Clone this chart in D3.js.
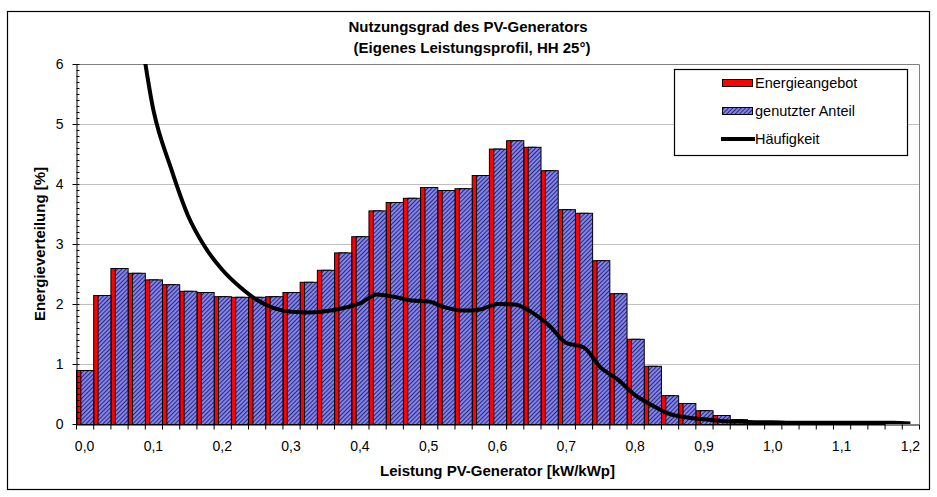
<!DOCTYPE html>
<html>
<head>
<meta charset="utf-8">
<script src="https://cdn.jsdelivr.net/npm/d3@7"></script>
<style>
  body { margin: 0; background: #fff; }
  svg text { font-family: "Liberation Sans", Arial, sans-serif; fill: #000; }
</style>
</head>
<body>
<svg id="chart" width="937" height="497"></svg>
<script>
// bins of the PV power [kW/kWp]
var categories = [0.000, 0.025, 0.050, 0.075, 0.100, 0.125, 0.150, 0.175, 0.200, 0.225,
                  0.250, 0.275, 0.300, 0.325, 0.350, 0.375, 0.400, 0.425, 0.450, 0.475,
                  0.500, 0.525, 0.550, 0.575, 0.600, 0.625, 0.650, 0.675, 0.700, 0.725,
                  0.750, 0.775, 0.800, 0.825, 0.850, 0.875, 0.900, 0.925, 0.950, 0.975,
                  1.000, 1.025, 1.050, 1.075, 1.100, 1.125, 1.150, 1.175, 1.200];

// Energieangebot [%]
var angebot = [0.90, 2.15, 2.60, 2.52, 2.41, 2.33, 2.22, 2.20, 2.13, 2.12,
               2.12, 2.13, 2.20, 2.37, 2.57, 2.86, 3.13, 3.56, 3.70, 3.77,
               3.95, 3.90, 3.93, 4.15, 4.59, 4.73, 4.62, 4.23, 3.58, 3.52,
               2.73, 2.18, 1.42, 0.97, 0.48, 0.35, 0.23, 0.15, 0.08, 0.05,
               0.04, 0.03, 0.02, 0.02, 0.01, 0.01, 0.01, 0.00, 0.00];

// genutzter Anteil [%]
var genutzt = [0.90, 2.15, 2.60, 2.52, 2.41, 2.33, 2.22, 2.20, 2.13, 2.12,
               2.12, 2.13, 2.20, 2.37, 2.57, 2.86, 3.13, 3.56, 3.70, 3.77,
               3.95, 3.90, 3.93, 4.15, 4.59, 4.73, 4.62, 4.23, 3.58, 3.52,
               2.73, 2.18, 1.42, 0.97, 0.48, 0.35, 0.23, 0.15, 0.08, 0.05,
               0.04, 0.03, 0.02, 0.02, 0.01, 0.01, 0.01, 0.00, 0.00];

// Häufigkeit [%]
var haeufigkeit = [14.0, 11.0, 8.8, 7.0, 5.23, 4.28, 3.48, 2.95, 2.57, 2.29,
                   2.07, 1.93, 1.87, 1.86, 1.88, 1.93, 2.01, 2.16, 2.12, 2.06,
                   2.04, 1.94, 1.89, 1.91, 2.00, 1.99, 1.86, 1.64, 1.35, 1.28,
                   0.94, 0.74, 0.48, 0.31, 0.17, 0.11, 0.08, 0.05, 0.04, 0.03,
                   0.03, 0.02, 0.02, 0.02, 0.02, 0.02, 0.02, 0.02, 0.01];

var xTickLabels = ["0,0", "0,1", "0,2", "0,3", "0,4", "0,5", "0,6",
                   "0,7", "0,8", "0,9", "1,0", "1,1", "1,2"];
var yTicks = [0, 1, 2, 3, 4, 5, 6];

var svg = d3.select("#chart");
var pLeft = 76, pRight = 919, pTop = 64, pBottom = 424;

var x = d3.scaleBand().domain(d3.range(categories.length)).range([pLeft, pRight]).padding(0);
var xEdge = d3.scaleLinear().domain([0, categories.length]).range([pLeft, pRight]);
var y = d3.scaleLinear().domain([0, 6]).range([pBottom, pTop]);
var bw = x.bandwidth();
var barW = bw * 0.746;

// hatch pattern for the used share
var defs = svg.append("defs");
var pat = defs.append("pattern")
    .attr("id", "hatch")
    .attr("patternUnits", "userSpaceOnUse")
    .attr("width", 3).attr("height", 3)
    .attr("patternTransform", "rotate(45)");
pat.append("rect").attr("width", 3).attr("height", 3).attr("fill", "#8585f2");
pat.append("line").attr("x1", 0.5).attr("y1", 0).attr("x2", 0.5).attr("y2", 3)
    .attr("stroke", "#2a2a70").attr("stroke-width", 1.1);

defs.append("clipPath").attr("id", "plotclip")
    .append("rect").attr("x", pLeft).attr("y", pTop)
    .attr("width", pRight - pLeft).attr("height", pBottom - pTop);

// outer frame
svg.append("rect").attr("x", 7.5).attr("y", 11.5).attr("width", 922).attr("height", 478)
    .attr("fill", "#fff").attr("stroke", "#000").attr("stroke-width", 1.2);

// grid
svg.append("g").selectAll("line").data(yTicks.slice(1, 6)).enter().append("line")
    .attr("x1", pLeft).attr("x2", pRight)
    .attr("y1", function (d) { return y(d) + 0.5; })
    .attr("y2", function (d) { return y(d) + 0.5; })
    .attr("stroke", "#c0c0c0");
svg.append("path")
    .attr("d", "M" + pLeft + "," + (pTop + 0.5) + "H" + (pRight + 0.5) + "V" + pBottom)
    .attr("fill", "none").attr("stroke", "#808080");

// bars
var bars = svg.append("g");
bars.selectAll(".red").data(angebot).enter().append("rect")
    .attr("class", "red")
    .attr("x", function (d, i) { return x(i) + 0.5; })
    .attr("y", function (d) { return y(d) + 0.5; })
    .attr("width", barW)
    .attr("height", function (d) { return Math.max(0, pBottom - y(d)); })
    .attr("fill", "#ff0000").attr("stroke", "#000").attr("stroke-width", 1);
bars.selectAll(".blue").data(genutzt).enter().append("rect")
    .attr("class", "blue")
    .attr("x", function (d, i) { return x(i) + bw - barW + 0.5; })
    .attr("y", function (d) { return y(d) + 0.5; })
    .attr("width", barW)
    .attr("height", function (d) { return Math.max(0, pBottom - y(d)); })
    .attr("fill", "url(#hatch)").attr("stroke", "#000").attr("stroke-width", 1);

// frequency line
var line = d3.line()
    .x(function (d, i) { return x(i) + bw / 2; })
    .y(function (d) { return y(d); })
    .curve(d3.curveMonotoneX);
svg.append("path").datum(haeufigkeit)
    .attr("clip-path", "url(#plotclip)")
    .attr("d", line)
    .attr("fill", "none").attr("stroke", "#000").attr("stroke-width", 4)
    .attr("stroke-linejoin", "round");

// x axis: ticks on bin edges, labels every 4th bin
var xAxis = svg.append("g").attr("transform", "translate(0," + (pBottom + 0.5) + ")")
    .call(d3.axisBottom(xEdge).tickValues(d3.range(categories.length + 1))
        .tickSize(5).tickSizeOuter(0).tickFormat(""));
xAxis.select(".domain").attr("stroke", "#000");
xAxis.selectAll(".tick line").attr("stroke", "#000");

svg.append("g").selectAll("text").data(xTickLabels).enter().append("text")
    .attr("x", function (d, i) { return x(i * 4) + bw / 2; })
    .attr("y", 451)
    .attr("text-anchor", "middle")
    .style("font-size", "14px")
    .text(function (d) { return d; });

// y axis
var yAxis = svg.append("g").attr("transform", "translate(" + (pLeft + 0.5) + ",0)")
    .call(d3.axisLeft(y).tickValues(yTicks).tickFormat(d3.format("d"))
        .tickSize(4).tickPadding(9).tickSizeOuter(0));
yAxis.select(".domain").attr("stroke", "#000");
yAxis.selectAll(".tick line").attr("stroke", "#000");
yAxis.selectAll("text").style("font-size", "14px").attr("font-family", null);

svg.append("g").attr("transform", "translate(" + (pLeft + 0.5) + ",0)")
    .call(d3.axisRight(y).tickValues(d3.range(0, 61).map(function (i) { return i / 10; }))
        .tickSize(3).tickFormat(""))
    .call(function (g) { g.select(".domain").remove(); })
    .selectAll(".tick line").attr("stroke", "#000");

// titles
svg.append("text").attr("x", 468).attr("y", 32).attr("text-anchor", "middle")
    .style("font-size", "15px").style("font-weight", "bold")
    .text("Nutzungsgrad des PV-Generators");
svg.append("text").attr("x", 472).attr("y", 53).attr("text-anchor", "middle")
    .style("font-size", "15px").style("font-weight", "bold")
    .text("(Eigenes Leistungsprofil, HH 25°)");
svg.append("text").attr("x", (pLeft + pRight) / 2).attr("y", 476).attr("text-anchor", "middle")
    .style("font-size", "15px").style("font-weight", "bold")
    .text("Leistung PV-Generator [kW/kWp]");
svg.append("text")
    .attr("transform", "translate(45," + ((pTop + pBottom) / 2) + ") rotate(-90)")
    .attr("text-anchor", "middle")
    .style("font-size", "15px").style("font-weight", "bold")
    .text("Energieverteilung [%]");

// legend
var lg = svg.append("g");
lg.append("rect").attr("x", 674.5).attr("y", 69.5).attr("width", 233).attr("height", 86)
    .attr("fill", "#fff").attr("stroke", "#000").attr("stroke-width", 1.2);
var legendItems = ["Energieangebot", "genutzter Anteil", "Häufigkeit"];
legendItems.forEach(function (name, i) {
    var cy = 83 + i * 28;
    if (i < 2) {
        lg.append("rect").attr("x", 722.5).attr("y", cy - 3.5).attr("width", 30).attr("height", 7)
            .attr("fill", i === 0 ? "#ff0000" : "url(#hatch)")
            .attr("stroke", "#000").attr("stroke-width", 1);
    } else {
        lg.append("line").attr("x1", 721).attr("x2", 755).attr("y1", cy).attr("y2", cy)
            .attr("stroke", "#000").attr("stroke-width", 4);
    }
    lg.append("text").attr("x", 755).attr("y", cy + 5)
        .style("font-size", "14.5px")
        .text(name);
});
</script>
</body>
</html>
